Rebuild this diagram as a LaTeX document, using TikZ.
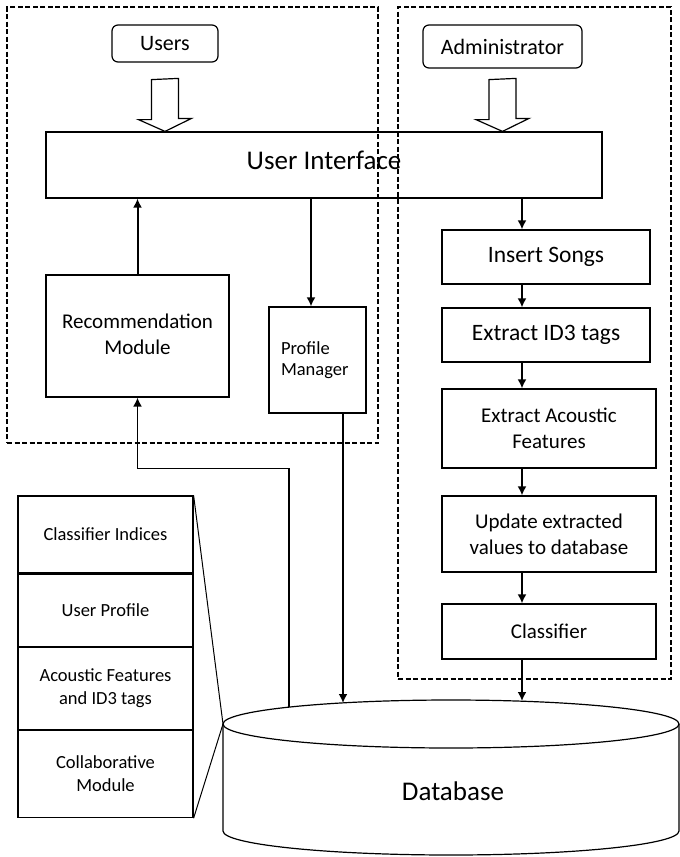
\documentclass[tikz,border=0pt]{standalone}
\usepackage{fontspec}
\setmainfont{Carlito}
\usetikzlibrary{arrows.meta,positioning,calc}

\begin{document}
\begin{tikzpicture}[x=1pt, y=-1pt,
  font=\fontsize{21}{26}\selectfont,
  unit/.style={draw, line width=1.2pt, align=center, inner sep=0pt},
  actor/.style={unit, rounded corners=6pt, font=\fontsize{22}{26}\selectfont},
  zone/.style={draw, line width=1.8pt, dash pattern=on 5pt off 2.5pt, inner sep=0pt},
  cell/.style={unit, minimum width=175pt, font=\fontsize{18.5}{23}\selectfont},
  flow/.style={-{Latex[length=9pt,width=9pt]}, line width=2pt},
  feed/.style={flow, line width=1.6pt},
  hollow/.style={draw, line width=1.2pt, fill=white},
  zoomline/.style={line width=1pt}
]
\useasboundingbox (0,0) rectangle (680,857);

% dashed groups
\node[zone, minimum width=371pt, minimum height=436pt] (userzone) at (192.5,225) {};
\node[zone, minimum width=273pt, minimum height=672pt] (adminzone) at (534.5,343) {};

% actors and interface
\node[actor, minimum width=106pt, minimum height=37pt] (users) at (165,43.5) {Users};
\node[actor, minimum width=159pt, minimum height=43pt] (admin) at (502.5,46.5) {Administrator};
\node[unit, minimum width=556pt, minimum height=66pt,
  font=\fontsize{27}{30}\selectfont] (ui) at (324,165) {\raisebox{9pt}{User Interface}};

\draw[hollow] ($(users.south)+(-13.5,17)$) -- ++(0,40) -- ++(-13,0)
  -- (users.south |- ui.north) -- ++(26.5,-13) -- ++(-13,0) -- ++(0,-40) -- cycle;
\draw[hollow] ($(admin.south)+(-13.5,11)$) -- ++(0,40) -- ++(-13,0)
  -- (admin.south |- ui.north) -- ++(26.5,-13) -- ++(-13,0) -- ++(0,-40) -- cycle;

% user side
\node[unit, minimum width=183pt, minimum height=122pt] (rec) at (137.5,336)
  {\raisebox{4pt}{\begin{tabular}{@{}c@{}}Recommendation\\Module\end{tabular}}};
\node[unit, minimum width=97pt, minimum height=106pt, align=left, text width=73pt,
  font=\fontsize{18.5}{21}\selectfont] (pm) at (317.5,360) {Profile\\Manager};

% administrator side
\node[unit, minimum width=208pt, minimum height=54pt,
  font=\fontsize{23.5}{26}\selectfont] (ins) at (546,257) {Insert Songs};
\node[unit, minimum width=208pt, minimum height=54pt,
  font=\fontsize{23.5}{26}\selectfont] (id3) at (546,335) {Extract ID3 tags};
\node[unit, minimum width=214pt, minimum height=79pt] (acou) at (549,428.5)
  {Extract Acoustic\\Features};
\node[unit, minimum width=214pt, minimum height=76pt] (upd) at (549,534)
  {Update extracted\\values to database};
\node[unit, minimum width=214pt, minimum height=55pt] (cls) at (549,631.5) {Classifier};

% database contents
\node[cell, minimum height=77pt] (ci) at (105.5,534.5) {Classifier Indices};
\node[cell, minimum height=72pt, below=0pt of ci] (up) {User Profile};
\node[cell, minimum height=82pt, below=0pt of up] (af) {Acoustic Features\\and ID3 tags};
\node[cell, minimum height=87pt, below=0pt of af] (cm) {Collaborative\\Module};

% database cylinder
\coordinate (dbc) at (451,724);
\coordinate (dbleft) at (223,724);
\draw[line width=1.2pt] (dbc) ellipse[x radius=228, y radius=24];
\draw[line width=1.2pt] (dbleft) -- (223,831) arc[start angle=180, end angle=0,
  x radius=228, y radius=24] -- (679,724);
\node[font=\fontsize{27}{30}\selectfont] (db) at (453,791) {Database};
\coordinate (dbpm) at (343,703);
\coordinate (dbin) at (522,701);
\coordinate (dbout) at (289,707);

% connectors
\coordinate (rx) at (522,0);
\draw[flow] (rec.north) -- (rec.north |- ui.south);
\draw[flow] ([xshift=-6.5pt]pm.north |- ui.south) -- ([xshift=-6.5pt]pm.north);
\draw[flow] ([xshift=25.5pt]pm.south) -- (dbpm);
\draw[feed] (dbout) |- ([yshift=-71pt]rec.south) -- (rec.south);
\draw[flow] (ui.south -| rx) -- (ins.north -| rx);
\draw[flow] (ins.south -| rx) -- (id3.north -| rx);
\draw[flow] (id3.south -| rx) -- (acou.north -| rx);
\draw[flow] (acou.south -| rx) -- (upd.north -| rx);
\draw[flow] (upd.south -| rx) -- (cls.north -| rx);
\draw[flow] (cls.south -| rx) -- (dbin);
\draw[zoomline] (ci.north east) -- (dbleft) -- (cm.south east);
\end{tikzpicture}
\end{document}
